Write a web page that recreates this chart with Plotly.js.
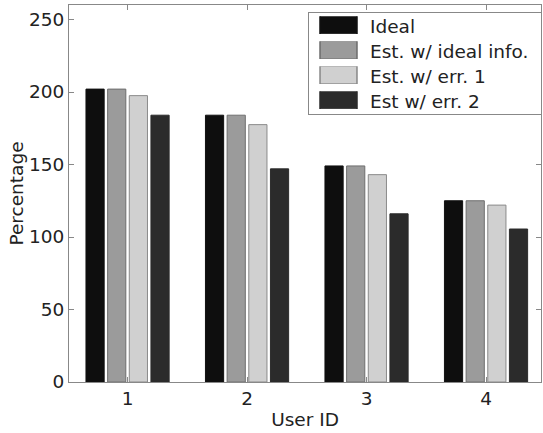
<!DOCTYPE html>
<html>
<head>
<meta charset="utf-8">
<script src="https://cdn.plot.ly/plotly-3.0.1.min.js"></script>
<style>
  html, body { margin: 0; padding: 0; background: #fff; }
  #chart { width: 543px; height: 433px; }
</style>
</head>
<body>
<div id="chart"></div>
<script>
const userIds = [1, 2, 3, 4];
const seriesNames = ["Ideal", "Est. w/ ideal info.", "Est. w/ err. 1", "Est w/ err. 2"];
const idealVals = [202, 184, 149, 125];
const estIdealVals = [202, 184, 149, 125];
const estErr1Vals = [197.5, 177.5, 143, 122];
const estErr2Vals = [184, 147, 116, 105.5];
const seriesColors = ["#0e0e0e", "#9b9b9b", "#d0d0d0", "#2b2b2b"];
const edgeColors = ["#111111", "#6e6e6e", "#8a8a8a", "#2b2b2b"];
const yTicks = [0, 50, 100, 150, 200, 250];

const allVals = [idealVals, estIdealVals, estErr1Vals, estErr2Vals];
const font = { family: "DejaVu Sans, Arial, sans-serif", size: 18.5, color: "#222" };

const traces = allVals.map((vals, i) => ({
  type: "bar",
  name: seriesNames[i],
  x: userIds,
  y: vals,
  marker: { color: seriesColors[i], line: { color: edgeColors[i], width: 1 } },
  hoverinfo: "skip"
}));

const layout = {
  width: 543,
  height: 433,
  margin: { l: 69, r: 2, t: 5, b: 51 },
  paper_bgcolor: "#fff",
  plot_bgcolor: "#fff",
  font: font,
  barmode: "group",
  bargap: 0.275,
  bargroupgap: 0.16,
  showlegend: true,
  legend: {
    x: 1, xanchor: "right", y: 0.981, yanchor: "top",
    bgcolor: "#fff", bordercolor: "#888", borderwidth: 1,
    font: font, itemwidth: 37, traceorder: "normal"
  },
  xaxis: {
    type: "linear",
    range: [0.51, 4.46],
    tickvals: userIds,
    ticktext: userIds.map(String),
    ticks: "inside", ticklen: 5, tickcolor: "#888",
    showline: true, linecolor: "#888", linewidth: 1, mirror: "ticks",
    showgrid: false, zeroline: false,
    automargin: false,
    title: { text: "User ID", font: font, standoff: 4 }
  },
  yaxis: {
    range: [0, 260],
    tickvals: yTicks,
    ticks: "inside", ticklen: 5, tickcolor: "#888",
    showline: true, linecolor: "#888", linewidth: 1, mirror: "ticks",
    showgrid: false, zeroline: false,
    automargin: false,
    title: { text: "Percentage", font: font, standoff: 0 }
  }
};

// Legend box geometry (styling only, matching the reference legend)
const LEG_X = 308, LEG_Y = 12, LEG_W = 233, LEG_H = 102;
const ROW0 = 25, ROW_STEP = 25, SW_CX = 338.5, SW_SX = 3.08, SW_SY = 1.42, TEXT_X = 370;

function fixLegend() {
  const leg = document.querySelector("#chart .legend");
  if (!leg) return;
  leg.setAttribute("transform", `translate(${LEG_X},${LEG_Y})`);
  const bg = leg.querySelector("rect.bg");
  if (bg) {
    bg.setAttribute("x", 0.5); bg.setAttribute("y", 0.5);
    bg.setAttribute("width", LEG_W); bg.setAttribute("height", LEG_H);
  }
  leg.querySelectorAll("[clip-path]").forEach(el => el.removeAttribute("clip-path"));
  const sb = leg.querySelector(".scrollbox");
  if (sb) sb.setAttribute("transform", "translate(0,0)");
  leg.querySelectorAll(".traces").forEach((g, i) => {
    g.setAttribute("transform", "translate(0,0)");
    const rowY = ROW0 + ROW_STEP * i;
    g.querySelectorAll(".legendpoints path").forEach(p => {
      p.setAttribute("transform", `scale(${SW_SX},${SW_SY})`);
      const r = p.getBoundingClientRect();
      const dx = SW_CX - (r.left + r.width / 2);
      const dy = rowY - (r.top + r.height / 2);
      p.setAttribute("transform", `translate(${dx},${dy}) scale(${SW_SX},${SW_SY})`);
      p.style.strokeWidth = "0.5px";
    });
    const t = g.querySelector("text.legendtext");
    if (t) {
      t.setAttribute("transform", "");
      const r = t.getBoundingClientRect();
      const dx = TEXT_X - r.left;
      const dy = rowY - (r.top + r.height / 2) + 1;
      t.setAttribute("transform", `translate(${dx},${dy})`);
    }
  });
}

Plotly.newPlot("chart", traces, layout, { staticPlot: true, displayModeBar: false }).then(() => {
  fixLegend();
  setTimeout(fixLegend, 50);
  setTimeout(fixLegend, 300);
});
</script>
</body>
</html>
